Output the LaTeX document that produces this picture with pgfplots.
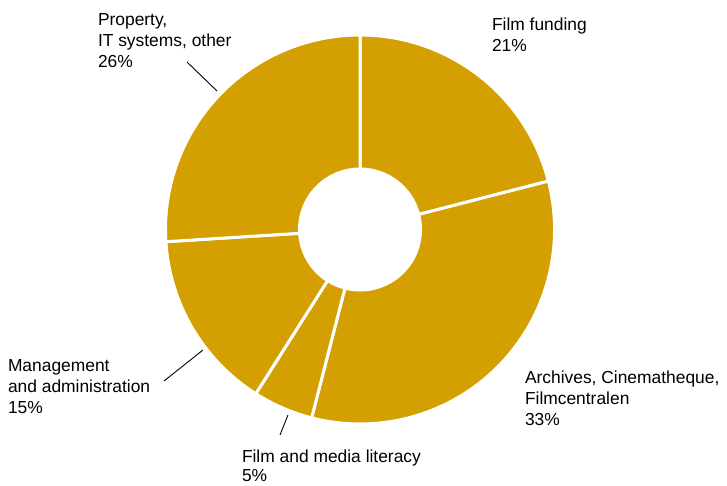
\documentclass[border=0pt]{standalone}
\usepackage{fontspec}
\setmainfont{Liberation Sans}
\usepackage{pgfplots}
\usepackage{pgfplotstable}
\pgfplotsset{compat=1.18}
\usetikzlibrary{calc}

\definecolor{dfigold}{RGB}{212,159,0}
\tikzset{lbl/.style={font=\fontsize{17.4bp}{21bp}\selectfont, inner sep=0pt, outer sep=0pt, anchor=base west}}

% shares in percent, clockwise from 12 o'clock
\pgfplotstableread{
share
21
33
5
15
26
}\slices

\begin{document}
\begin{tikzpicture}
% cumulative angles
\pgfmathsetmacro\cum{90}
\foreach \i in {0,...,4}{
  \pgfplotstablegetelem{\i}{share}\of\slices
  \pgfmathsetmacro\nxt{\cum-3.6*\pgfplotsretval}
  \expandafter\xdef\csname angs\i\endcsname{\cum}
  \expandafter\xdef\csname ange\i\endcsname{\nxt}
  \global\let\cum\nxt
}
\begin{axis}[
    width=727bp, height=486bp,
    scale only axis,
    xmin=0, xmax=727, ymin=0, ymax=486,
    hide axis, clip=false,
  ]
  % keep the full canvas as the picture's extent
  \path (axis cs:0,0) rectangle (axis cs:727,486);

  \pgfplotsinvokeforeach{0,...,4}{
    \fill[dfigold, draw=white, line width=3bp]
      ($(axis cs:360,256.5)+(\csname angs#1\endcsname:194.5bp)$)
      arc[start angle=\csname angs#1\endcsname, end angle=\csname ange#1\endcsname, radius=194.5bp]
      -- ($(axis cs:360,256.5)+(\csname ange#1\endcsname:60.5bp)$)
      arc[start angle=\csname ange#1\endcsname, end angle=\csname angs#1\endcsname, radius=60.5bp]
      -- cycle;
  }

  % leader lines
  \draw[black, line width=0.9bp] (axis cs:187,424) -- (axis cs:217,395);
  \draw[black, line width=0.9bp] (axis cs:164,105) -- (axis cs:203,136);
  \draw[black, line width=0.9bp] (axis cs:280,51) -- (axis cs:288,71);

  % labels
  \node[lbl] at (axis cs:492,455) {Film funding};
  \node[lbl] at (axis cs:492,434) {21\%};

  \node[lbl] at (axis cs:525,102) {Archives, Cinematheque,};
  \node[lbl] at (axis cs:525,81) {Filmcentralen};
  \node[lbl] at (axis cs:525,60) {33\%};

  \node[lbl] at (axis cs:242,24) {Film and media literacy};
  \node[lbl] at (axis cs:242,4.5) {5\%};

  \node[lbl] at (axis cs:8,114) {Management};
  \node[lbl] at (axis cs:8,93) {and administration};
  \node[lbl] at (axis cs:8,72) {15\%};

  \node[lbl] at (axis cs:98,460) {Property,};
  \node[lbl] at (axis cs:98,439) {IT systems, other};
  \node[lbl] at (axis cs:98,418) {26\%};
\end{axis}
\end{tikzpicture}
\end{document}
